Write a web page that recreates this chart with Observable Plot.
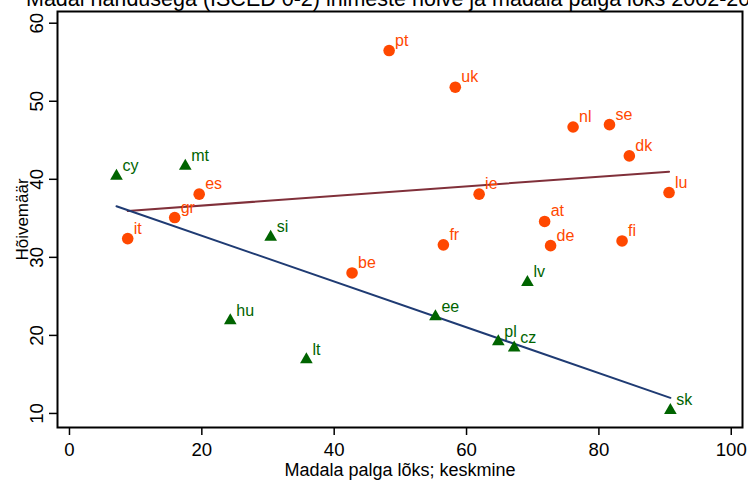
<!DOCTYPE html>
<html><head><meta charset="utf-8">
<script src="https://cdn.jsdelivr.net/npm/d3@7"></script>
<script src="https://cdn.jsdelivr.net/npm/@observablehq/plot@0.6"></script>
<style>
body{margin:0;background:#fff;}
#wrap{position:relative;width:748px;height:481px;overflow:hidden;font-family:"Liberation Sans",Arial,sans-serif;background:#fff;}
#title{position:absolute;left:26px;top:-11px;font-size:21.5px;line-height:21.5px;white-space:nowrap;color:#000;}
</style></head><body><div id="wrap"></div>
<script>
const titleText = "Madal haridusega (ISCED 0-2) inimeste hõive ja madala palga lõks 2002-2005";
const xLabel = "Madala palga lõks; keskmine";
const yLabel = "Hõivemäär";
const xTicks = [0, 20, 40, 60, 80, 100];
const yTicks = [10, 20, 30, 40, 50, 60];

// orange circles
const codesA = ["pt","uk","nl","se","dk","lu","es","ie","gr","at","it","fr","de","fi","be"];
const trapA  = [48.3, 58.3, 76.1, 81.6, 84.6, 90.6, 19.6, 61.9, 15.9, 71.8, 8.8, 56.5, 72.7, 83.5, 42.7];
const emplA  = [56.5, 51.8, 46.7, 47.0, 43.0, 38.3, 38.1, 38.1, 35.1, 34.6, 32.4, 31.6, 31.5, 32.1, 28.0];

// green triangles
const codesB = ["cy","mt","si","hu","lt","ee","lv","pl","cz","sk"];
const trapB  = [7.1, 17.5, 30.4, 24.3, 35.8, 55.3, 69.2, 64.8, 67.2, 90.8];
const emplB  = [40.4, 41.7, 32.6, 21.9, 16.9, 22.4, 26.8, 19.2, 18.4, 10.4];

const rowsA = codesA.map((c, i) => ({code: c, x: trapA[i], y: emplA[i]}));
const rowsB = codesB.map((c, i) => ({code: c, x: trapB[i], y: emplB[i]}));

const orange = "#ff4800";
const green = "#006400";

const plot = Plot.plot({
  width: 748,
  height: 481,
  marginLeft: 57,
  marginRight: 6,
  marginTop: 11,
  marginBottom: 54,
  style: {fontFamily: "Liberation Sans, Arial, sans-serif", background: "white", color: "black"},
  x: {domain: [-1.81, 101.7]},
  y: {domain: [8.2, 61.5]},
  marks: [
    Plot.linearRegressionY(rowsA, {x: "x", y: "y", stroke: "#80303a", strokeWidth: 2, ci: 0}),
    Plot.linearRegressionY(rowsB, {x: "x", y: "y", stroke: "#1f3b73", strokeWidth: 2, ci: 0}),
    Plot.dot(rowsA, {x: "x", y: "y", r: 5.8, fill: orange, stroke: null}),
    Plot.dot(rowsB, {x: "x", y: "y", r: 4.7, symbol: "triangle", fill: green, stroke: null}),
    Plot.text(rowsA, {x: "x", y: "y", text: "code", dx: 6, dy: -5, textAnchor: "start", lineAnchor: "bottom", fill: orange, fontSize: 16}),
    Plot.text(rowsB, {x: "x", y: "y", text: "code", dx: 6, dy: -5, textAnchor: "start", lineAnchor: "bottom", fill: green, fontSize: 16}),
    Plot.axisX({ticks: xTicks, tickSize: 8, tickPadding: 7, fontSize: 18.6, label: null, strokeWidth: 1.5}),
    Plot.axisY({ticks: yTicks, tickSize: 8, tickPadding: 7, tickRotate: -90, fontSize: 18.6, label: null, strokeWidth: 1.5}),
    Plot.text([xLabel], {frameAnchor: "bottom", dy: 48, lineAnchor: "bottom", fontSize: 18, fill: "black"}),
    Plot.text([yLabel], {frameAnchor: "left", dx: -42, rotate: -90, lineAnchor: "top", textAnchor: "middle", fontSize: 17, fill: "black"}),
    Plot.frame({stroke: "black", strokeWidth: 2})
  ]
});

const wrap = document.getElementById("wrap");
wrap.appendChild(plot);
const t = document.createElement("div");
t.id = "title";
t.textContent = titleText;
wrap.appendChild(t);
</script>
</body></html>
